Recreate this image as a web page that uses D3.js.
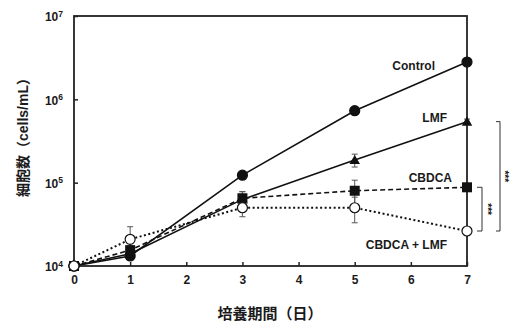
<!DOCTYPE html>
<html><head><meta charset="utf-8">
<script src="https://cdn.jsdelivr.net/npm/d3@7"></script>
<style>
html,body{margin:0;padding:0;background:#fff;}
text{font-family:"Liberation Sans",Arial,"Noto Sans CJK JP",sans-serif;font-weight:bold;fill:#1a1a1a;}
</style></head>
<body><svg id="c" width="510" height="321"></svg>
<script>
const days = [0, 1, 3, 5, 7];
const xTicks = [0, 1, 2, 3, 4, 5, 6, 7];
const yTicks = [4, 5, 6, 7];
const control = [10000, 13200, 123000, 730000, 2800000];
const controlErr = [0, 1200, 8000, 40000, 150000];
const lmf = [10000, 14000, 63000, 187000, 540000];
const lmfErr = [0, 1500, 15000, 33000, 40000];
const cbdca = [10000, 15500, 65000, 80000, 88000];
const cbdcaErr = [0, 2000, 13000, 27000, 6000];
const combo = [10000, 20900, 50000, 50000, 26300];
const comboErr = [0, 8700, 11000, 17000, 2000];
const seriesNames = ["Control", "LMF", "CBDCA", "CBDCA + LMF"];
const xTitle = "培養期間（日）";
const yTitle = "細胞数（cells/mL）";
const sig = "***";

const svg = d3.select("#c");
const m = {l: 74, r: 43, t: 16, b: 55};
const W = 510 - m.l - m.r, H = 321 - m.t - m.b;
const x = d3.scaleLinear().domain([0, 7]).range([m.l, m.l + W]);
const y = d3.scaleLog().domain([1e4, 1e7]).range([m.t + H, m.t]);

const series = [
  {name: seriesNames[0], v: control, e: controlErr, dash: null, marker: "circle", fill: "#111"},
  {name: seriesNames[1], v: lmf, e: lmfErr, dash: null, marker: "triangle", fill: "#111"},
  {name: seriesNames[2], v: cbdca, e: cbdcaErr, dash: "5,3", marker: "square", fill: "#111"},
  {name: seriesNames[3], v: combo, e: comboErr, dash: "2,2.5", marker: "circle", fill: "#fff"}
];

// error bars
const eg = svg.append("g");
series.forEach(s => {
  days.forEach((d, i) => {
    if (!s.e[i]) return;
    const lo = Math.max(s.v[i] - s.e[i], 1e4), hi = s.v[i] + s.e[i];
    eg.append("line").attr("x1", x(d)).attr("x2", x(d)).attr("y1", y(lo)).attr("y2", y(hi))
      .attr("stroke", "#555").attr("stroke-width", 1);
    [lo, hi].forEach(val => eg.append("line").attr("x1", x(d) - 3).attr("x2", x(d) + 3)
      .attr("y1", y(val)).attr("y2", y(val)).attr("stroke", "#555").attr("stroke-width", 1));
  });
});

// lines
const line = d3.line().x((d, i) => x(days[i])).y(d => y(d));
[...series].reverse().forEach(s => {
  svg.append("path").datum(s.v).attr("d", line).attr("fill", "none")
    .attr("stroke", "#111").attr("stroke-width", s.dash === "2,2.5" ? 2 : 1.6)
    .attr("stroke-dasharray", s.dash);
});

// frame
const axisCol = "#222";
svg.append("rect").attr("x", m.l).attr("y", m.t).attr("width", W).attr("height", H)
  .attr("fill", "none").attr("stroke", axisCol).attr("stroke-width", 1.8);

// axes
const xAxis = d3.axisBottom(x).tickValues(xTicks).tickSize(-4).tickPadding(9).tickFormat(d3.format("d"));
const gx = svg.append("g").attr("transform", `translate(0,${m.t + H})`).call(xAxis);
gx.select(".domain").remove();
gx.selectAll("line").attr("stroke", axisCol).attr("stroke-width", 1.5);
gx.selectAll("text").attr("font-size", 12).attr("fill", "#1a1a1a").attr("font-family", null);

const yAxis = d3.axisLeft(y).tickValues(yTicks.map(p => Math.pow(10, p))).tickSize(-4).tickPadding(10).tickFormat(() => "");
const gy = svg.append("g").attr("transform", `translate(${m.l},0)`).call(yAxis);
gy.select(".domain").remove();
gy.selectAll("line").attr("stroke", axisCol).attr("stroke-width", 1.5);
gy.selectAll(".tick").each(function(d) {
  const t = d3.select(this).append("text").attr("x", -11).attr("dy", "0.4em")
    .attr("text-anchor", "end").attr("font-size", 12).attr("fill", "#1a1a1a").attr("font-family", null);
  t.append("tspan").text("10");
  t.append("tspan").attr("font-size", 8.5).attr("dy", "-0.55em").text(Math.round(Math.log10(d)));
});

// markers
series.forEach(s => {
  const g = svg.append("g");
  days.forEach((d, i) => {
    const cx = x(d), cy = y(s.v[i]);
    if (s.marker === "circle") {
      g.append("circle").attr("cx", cx).attr("cy", cy).attr("r", 5)
        .attr("fill", s.fill).attr("stroke", "#111").attr("stroke-width", 1.2);
    } else if (s.marker === "square") {
      g.append("rect").attr("x", cx - 5).attr("y", cy - 5).attr("width", 10).attr("height", 10)
        .attr("fill", s.fill);
    } else {
      g.append("path").attr("d", d3.symbol(d3.symbolTriangle, 48)()).attr("transform", `translate(${cx},${cy + 1})`)
        .attr("fill", s.fill);
    }
  });
});
// redraw open circle at origin on top
svg.append("circle").attr("cx", x(0)).attr("cy", y(combo[0])).attr("r", 5)
  .attr("fill", "#fff").attr("stroke", "#111").attr("stroke-width", 1.2);

// series labels
const labPos = [[435, 70], [447, 122], [452, 182], [447, 248.5]];
series.forEach((s, i) => {
  svg.append("text").attr("x", labPos[i][0]).attr("y", labPos[i][1]).attr("text-anchor", "end")
    .attr("font-size", 12).text(s.name);
});

// significance brackets
function bracket(x0, x1, v0, v1, tx) {
  const y0 = y(v0), y1 = y(v1);
  svg.append("path").attr("d", `M${x0},${y0}H${x1}V${y1}H${x0}`).attr("fill", "none")
    .attr("stroke", "#333").attr("stroke-width", 1);
  svg.append("text").attr("transform", `translate(${tx},${(y0 + y1) / 2}) rotate(90)`)
    .attr("text-anchor", "middle").attr("font-size", 10).text(sig);
}
bracket(x(7) + 10, x(7) + 15, cbdca[4], combo[4], x(7) + 17);
bracket(x(7) + 29, x(7) + 33, lmf[4], combo[4], x(7) + 34);

// titles
svg.append("text").attr("x", 270).attr("y", 319).attr("text-anchor", "middle")
  .attr("font-size", 15).text(xTitle);
svg.append("text").attr("transform", `translate(28,134) rotate(-90)`).attr("text-anchor", "middle")
  .attr("font-size", 14).text(yTitle);
</script></body></html>
